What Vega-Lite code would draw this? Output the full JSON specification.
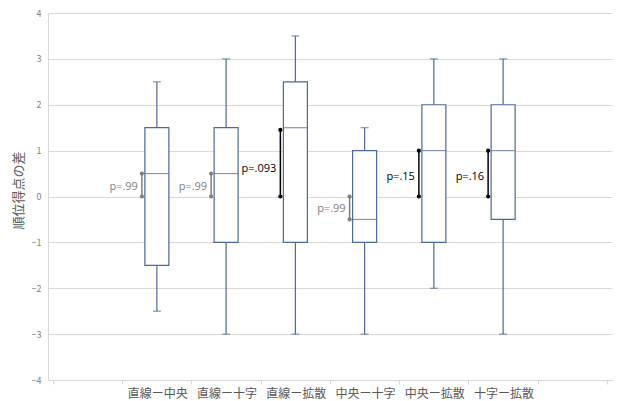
{
  "$schema": "https://vega.github.io/schema/vega-lite/v6.json",
  "autosize": {"type": "none"},
  "padding": {"left": 48, "top": 13, "right": 7, "bottom": 21},
  "width": 564,
  "height": 367,
  "background": "white",
  "config": {
    "font": "Noto Sans CJK JP",
    "view": {"stroke": null}
  },
  "data": {
    "values": [
      {"cat": "直線ー中央", "pos": 1.5, "min": -2.5, "q1": -1.5, "median": 0.5, "q3": 1.5, "max": 2.5, "p_low": 0, "p_high": 0.5, "p_label": "p=.99", "label_y": 0.2, "sig": "ns"},
      {"cat": "直線ー十字", "pos": 2.5, "min": -3, "q1": -1, "median": 0.5, "q3": 1.5, "max": 3, "p_low": 0, "p_high": 0.5, "p_label": "p=.99", "label_y": 0.2, "sig": "ns"},
      {"cat": "直線ー拡散", "pos": 3.5, "min": -3, "q1": -1, "median": 1.5, "q3": 2.5, "max": 3.5, "p_low": 0, "p_high": 1.45, "p_label": "p=.093", "label_y": 0.6, "sig": "s"},
      {"cat": "中央ー十字", "pos": 4.5, "min": -3, "q1": -1, "median": -0.5, "q3": 1, "max": 1.5, "p_low": -0.5, "p_high": 0, "p_label": "p=.99", "label_y": -0.27, "sig": "ns"},
      {"cat": "中央ー拡散", "pos": 5.5, "min": -2, "q1": -1, "median": 1, "q3": 2, "max": 3, "p_low": 0, "p_high": 1, "p_label": "p=.15", "label_y": 0.42, "sig": "s"},
      {"cat": "十字ー拡散", "pos": 6.5, "min": -3, "q1": -0.5, "median": 1, "q3": 2, "max": 3, "p_low": 0, "p_high": 1, "p_label": "p=.16", "label_y": 0.42, "sig": "s"}
    ]
  },
  "encoding": {
    "x": {
      "field": "pos", "type": "quantitative",
      "scale": {"domain": [0, 8], "nice": false, "zero": false},
      "axis": {
        "title": null,
        "values": [0, 1, 2, 3, 4, 5, 6, 7, 8],
        "labelExpr": "['', '直線ー中央', '直線ー十字', '直線ー拡散', '中央ー十字', '中央ー拡散', '十字ー拡散', '', ''][datum.value]",
        "labelOffset": 35,
        "labelOverlap": false,
        "labelBound": false,
        "labelFlush": false,
        "labelFontSize": 12,
        "labelColor": "#595959",
        "labelPadding": 4,
        "grid": false,
        "domainColor": "#d9d9d9",
        "tickColor": "#d9d9d9",
        "tickSize": 4
      }
    }
  },
  "layer": [
    {
      "mark": {"type": "rule", "color": "#4a6a9e", "strokeWidth": 1.2},
      "encoding": {
        "y": {
          "field": "min", "type": "quantitative",
          "scale": {"domain": [-4, 4], "nice": false},
          "axis": {
            "title": "順位得点の差",
            "titleFontSize": 13,
            "titleFontWeight": "normal",
            "titleColor": "#595959",
            "titlePadding": 6,
            "titleY": 177,
            "values": [-4, -3, -2, -1, 0, 1, 2, 3, 4],
            "labelFontSize": 9,
            "labelColor": "#7f7f7f",
            "labelPadding": 7,
            "ticks": false,
            "grid": true,
            "gridColor": "#d9d9d9",
            "domainColor": "#d9d9d9"
          }
        },
        "y2": {"field": "q1"}
      }
    },
    {
      "mark": {"type": "rule", "color": "#4a6a9e", "strokeWidth": 1.2},
      "encoding": {
        "y": {"field": "q3", "type": "quantitative"},
        "y2": {"field": "max"}
      }
    },
    {
      "mark": {"type": "tick", "orient": "horizontal", "color": "#4a6a9e", "size": 8, "thickness": 1.2},
      "encoding": {"y": {"field": "min", "type": "quantitative"}}
    },
    {
      "mark": {"type": "tick", "orient": "horizontal", "color": "#4a6a9e", "size": 8, "thickness": 1.2},
      "encoding": {"y": {"field": "max", "type": "quantitative"}}
    },
    {
      "mark": {"type": "bar", "size": 24, "fill": "white", "stroke": "#4a6a9e", "strokeWidth": 1.2},
      "encoding": {
        "y": {"field": "q1", "type": "quantitative"},
        "y2": {"field": "q3"}
      }
    },
    {
      "mark": {"type": "tick", "orient": "horizontal", "color": "#4a6a9e", "size": 24, "thickness": 1.2},
      "encoding": {"y": {"field": "median", "type": "quantitative"}}
    },
    {
      "mark": {"type": "rule", "xOffset": -15, "strokeWidth": 1.5},
      "encoding": {
        "y": {"field": "p_low", "type": "quantitative"},
        "y2": {"field": "p_high"},
        "color": {"field": "sig", "type": "nominal", "scale": {"domain": ["ns", "s"], "range": ["#7f7f7f", "#000000"]}, "legend": null}
      }
    },
    {
      "mark": {"type": "circle", "xOffset": -15, "size": 18, "opacity": 1},
      "encoding": {
        "y": {"field": "p_low", "type": "quantitative"},
        "color": {"field": "sig", "type": "nominal", "legend": null}
      }
    },
    {
      "mark": {"type": "circle", "xOffset": -15, "size": 18, "opacity": 1},
      "encoding": {
        "y": {"field": "p_high", "type": "quantitative"},
        "color": {"field": "sig", "type": "nominal", "legend": null}
      }
    },
    {
      "mark": {"type": "text", "xOffset": -19, "align": "right", "baseline": "middle", "fontSize": 11, "font": "Open Sans"},
      "encoding": {
        "y": {"field": "label_y", "type": "quantitative"},
        "text": {"field": "p_label"},
        "color": {"field": "sig", "type": "nominal", "scale": {"domain": ["ns", "s"], "range": ["#8c8c8c", "#000000"]}, "legend": null}
      }
    }
  ]
}
